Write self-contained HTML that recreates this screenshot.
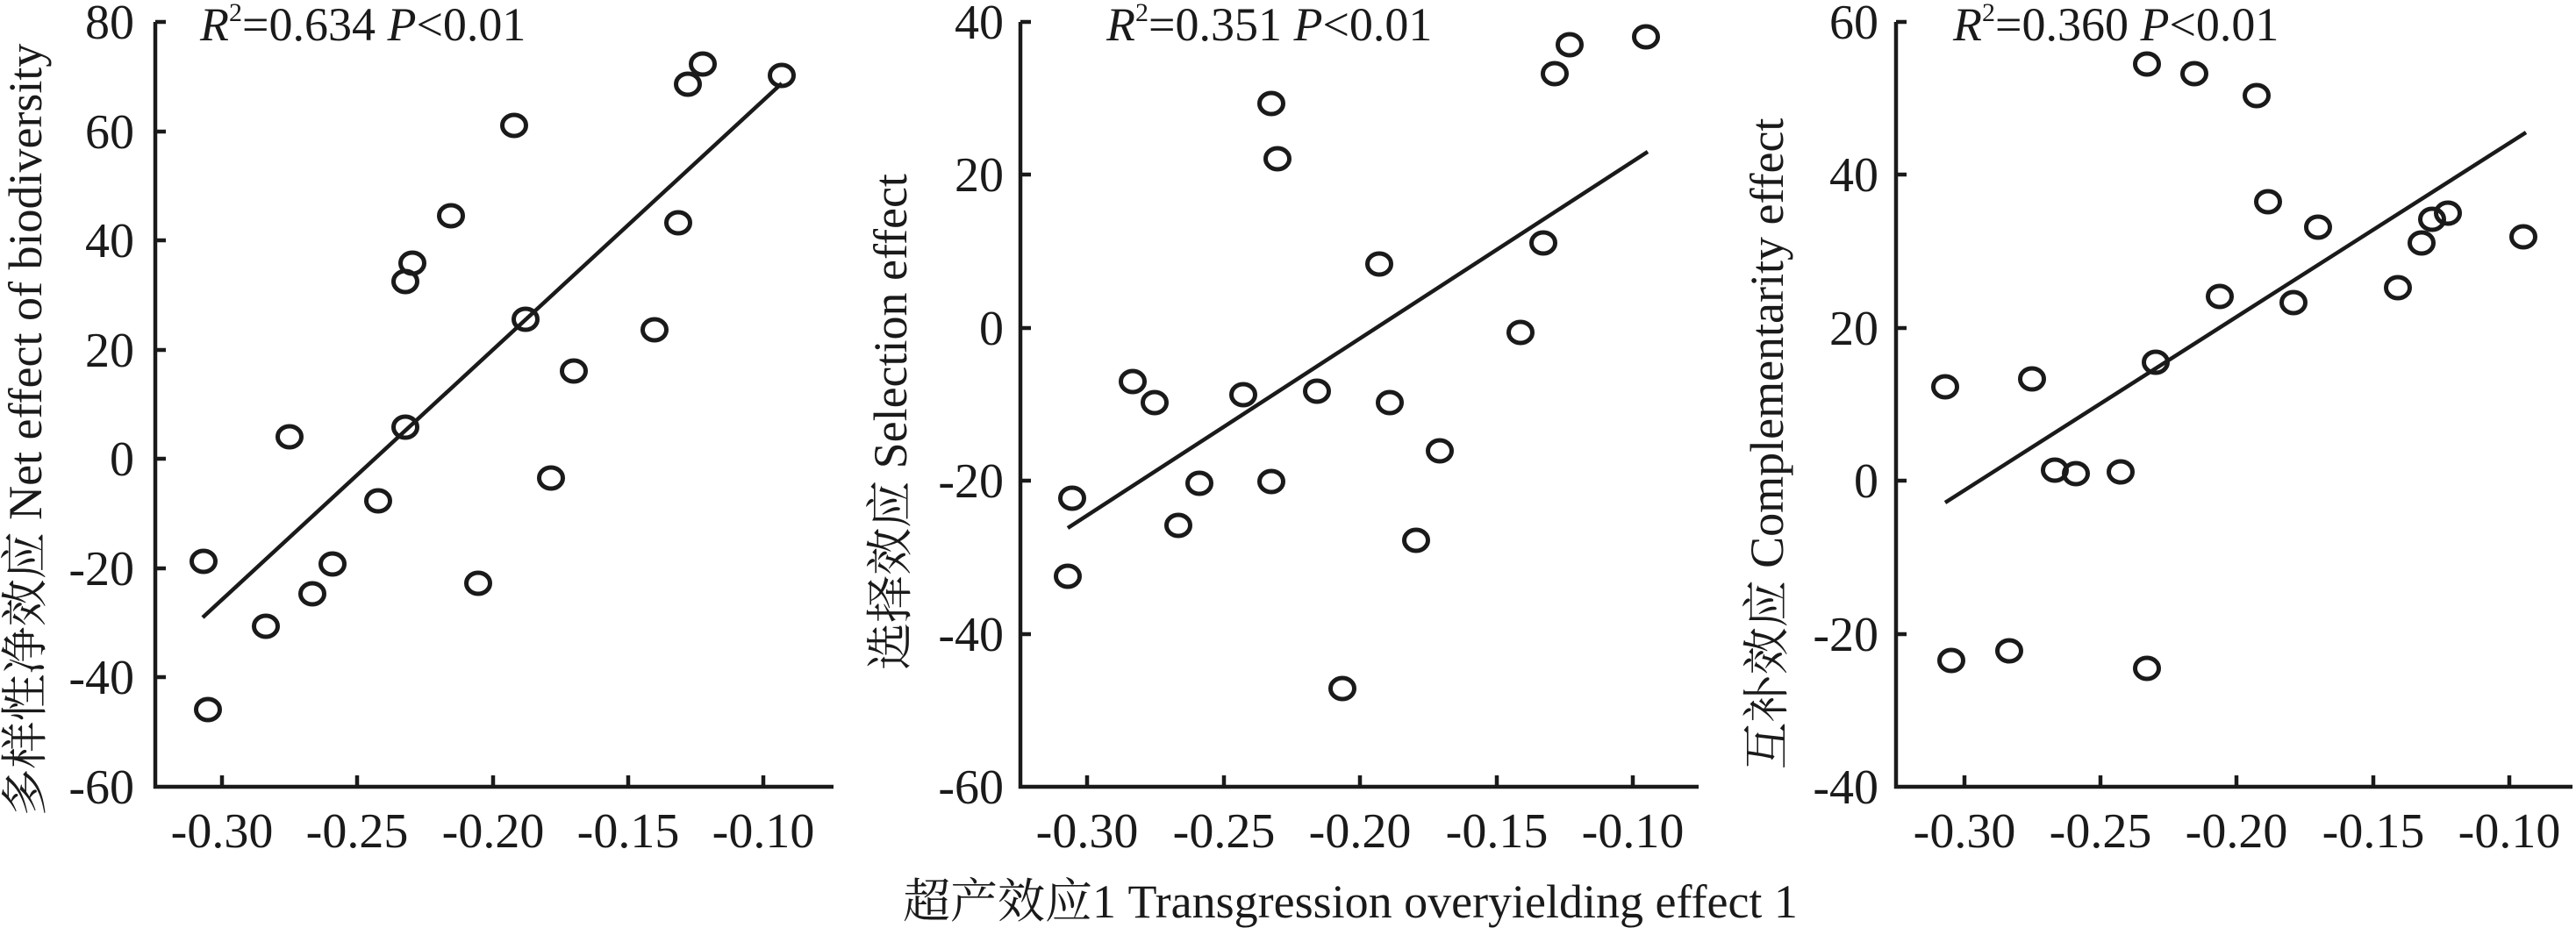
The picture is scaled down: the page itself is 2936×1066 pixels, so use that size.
<!DOCTYPE html>
<html><head><meta charset="utf-8"><style>
html,body{margin:0;padding:0;background:#fff;}
svg{display:block;}
text{font-family:"Liberation Serif","Noto Serif CJK SC","Noto Sans CJK SC",serif;fill:#1a1a1a;}
</style></head><body>
<svg width="2936" height="1066" viewBox="0 0 2936 1066" xmlns="http://www.w3.org/2000/svg">
<g stroke="#1a1a1a" stroke-width="4.5" fill="none">
<polyline points="177,25 177,897 950,897"/>
<path d="M177,25h12M177,150h12M177,274h12M177,399h12M177,523h12M177,648h12M177,772h12"/>
<path d="M253,897v-13M407,897v-13M562,897v-13M716,897v-13M870,897v-13"/>
<line x1="231" y1="704" x2="891" y2="95"/>
<polyline points="1163,25 1163,897 1936,897"/>
<path d="M1163,25h12M1163,199h12M1163,374h12M1163,548h12M1163,723h12"/>
<path d="M1239,897v-13M1395,897v-13M1550,897v-13M1706,897v-13M1861,897v-13"/>
<line x1="1217" y1="602" x2="1878" y2="173"/>
<polyline points="2161,25 2161,897 2932,897"/>
<path d="M2161,25h12M2161,199h12M2161,374h12M2161,548h12M2161,723h12"/>
<path d="M2239,897v-13M2394,897v-13M2549,897v-13M2705,897v-13M2860,897v-13"/>
<line x1="2217" y1="573" x2="2879" y2="151"/>
</g>
<g stroke="#1a1a1a" stroke-width="5" fill="none">
<ellipse cx="232" cy="640" rx="13.5" ry="12"/><ellipse cx="237" cy="809" rx="13.5" ry="12"/><ellipse cx="303" cy="714" rx="13.5" ry="12"/>
<ellipse cx="330" cy="498" rx="13.5" ry="12"/><ellipse cx="356" cy="677" rx="13.5" ry="12"/><ellipse cx="379" cy="643" rx="13.5" ry="12"/>
<ellipse cx="431" cy="571" rx="13.5" ry="12"/><ellipse cx="462" cy="321" rx="13.5" ry="12"/><ellipse cx="470" cy="300" rx="13.5" ry="12"/>
<ellipse cx="462" cy="487" rx="13.5" ry="12"/><ellipse cx="514" cy="246" rx="13.5" ry="12"/><ellipse cx="545" cy="665" rx="13.5" ry="12"/>
<ellipse cx="586" cy="143" rx="13.5" ry="12"/><ellipse cx="599" cy="364" rx="13.5" ry="12"/><ellipse cx="628" cy="545" rx="13.5" ry="12"/>
<ellipse cx="654" cy="423" rx="13.5" ry="12"/><ellipse cx="746" cy="376" rx="13.5" ry="12"/><ellipse cx="773" cy="254" rx="13.5" ry="12"/>
<ellipse cx="784" cy="96" rx="13.5" ry="12"/><ellipse cx="801" cy="73" rx="13.5" ry="12"/><ellipse cx="891" cy="86" rx="13.5" ry="12"/>
<ellipse cx="1222" cy="568" rx="13.5" ry="12"/><ellipse cx="1217" cy="657" rx="13.5" ry="12"/><ellipse cx="1291" cy="435" rx="13.5" ry="12"/>
<ellipse cx="1316" cy="459" rx="13.5" ry="12"/><ellipse cx="1343" cy="599" rx="13.5" ry="12"/><ellipse cx="1367" cy="551" rx="13.5" ry="12"/>
<ellipse cx="1417" cy="450" rx="13.5" ry="12"/><ellipse cx="1449" cy="118" rx="13.5" ry="12"/><ellipse cx="1456" cy="181" rx="13.5" ry="12"/>
<ellipse cx="1449" cy="549" rx="13.5" ry="12"/><ellipse cx="1501" cy="446" rx="13.5" ry="12"/><ellipse cx="1530" cy="785" rx="13.5" ry="12"/>
<ellipse cx="1572" cy="301" rx="13.5" ry="12"/><ellipse cx="1584" cy="459" rx="13.5" ry="12"/><ellipse cx="1614" cy="616" rx="13.5" ry="12"/>
<ellipse cx="1641" cy="514" rx="13.5" ry="12"/><ellipse cx="1733" cy="379" rx="13.5" ry="12"/><ellipse cx="1759" cy="277" rx="13.5" ry="12"/>
<ellipse cx="1772" cy="84" rx="13.5" ry="12"/><ellipse cx="1789" cy="51" rx="13.5" ry="12"/><ellipse cx="1876" cy="42" rx="13.5" ry="12"/>
<ellipse cx="2217" cy="441" rx="13.5" ry="12"/><ellipse cx="2224" cy="753" rx="13.5" ry="12"/><ellipse cx="2290" cy="742" rx="13.5" ry="12"/>
<ellipse cx="2316" cy="432" rx="13.5" ry="12"/><ellipse cx="2342" cy="536" rx="13.5" ry="12"/><ellipse cx="2366" cy="540" rx="13.5" ry="12"/>
<ellipse cx="2417" cy="538" rx="13.5" ry="12"/><ellipse cx="2447" cy="73" rx="13.5" ry="12"/><ellipse cx="2447" cy="762" rx="13.5" ry="12"/>
<ellipse cx="2457" cy="413" rx="13.5" ry="12"/><ellipse cx="2501" cy="84" rx="13.5" ry="12"/><ellipse cx="2530" cy="338" rx="13.5" ry="12"/>
<ellipse cx="2572" cy="109" rx="13.5" ry="12"/><ellipse cx="2585" cy="230" rx="13.5" ry="12"/><ellipse cx="2614" cy="345" rx="13.5" ry="12"/>
<ellipse cx="2642" cy="259" rx="13.5" ry="12"/><ellipse cx="2733" cy="328" rx="13.5" ry="12"/><ellipse cx="2760" cy="277" rx="13.5" ry="12"/>
<ellipse cx="2772" cy="250" rx="13.5" ry="12"/><ellipse cx="2790" cy="243" rx="13.5" ry="12"/><ellipse cx="2876" cy="270" rx="13.5" ry="12"/>
</g>
<g font-size="56" text-anchor="end">
<text x="153" y="44">80</text><text x="153" y="169">60</text><text x="153" y="293">40</text><text x="153" y="418">20</text>
<text x="153" y="542">0</text><text x="153" y="667">-20</text><text x="153" y="791">-40</text><text x="153" y="916">-60</text>
<text x="1144" y="44">40</text><text x="1144" y="218">20</text><text x="1144" y="393">0</text><text x="1144" y="567">-20</text>
<text x="1144" y="742">-40</text><text x="1144" y="916">-60</text>
<text x="2141" y="44">60</text><text x="2141" y="218">40</text><text x="2141" y="393">20</text><text x="2141" y="567">0</text>
<text x="2141" y="742">-20</text><text x="2141" y="916">-40</text>
</g>
<g font-size="56" text-anchor="middle">
<text x="253" y="966">-0.30</text><text x="407" y="966">-0.25</text><text x="562" y="966">-0.20</text><text x="716" y="966">-0.15</text><text x="870" y="966">-0.10</text>
<text x="1239" y="966">-0.30</text><text x="1395" y="966">-0.25</text><text x="1550" y="966">-0.20</text><text x="1706" y="966">-0.15</text><text x="1861" y="966">-0.10</text>
<text x="2239" y="966">-0.30</text><text x="2394" y="966">-0.25</text><text x="2549" y="966">-0.20</text><text x="2705" y="966">-0.15</text><text x="2860" y="966">-0.10</text>
</g>
<g font-size="54">
<text x="228" y="46"><tspan font-style="italic">R</tspan><tspan font-size="30" dy="-22">2</tspan><tspan dy="22">=0.634 </tspan><tspan font-style="italic">P</tspan>&lt;0.01</text>
<text x="1261" y="46"><tspan font-style="italic">R</tspan><tspan font-size="30" dy="-22">2</tspan><tspan dy="22">=0.351 </tspan><tspan font-style="italic">P</tspan>&lt;0.01</text>
<text x="2226" y="46"><tspan font-style="italic">R</tspan><tspan font-size="30" dy="-22">2</tspan><tspan dy="22">=0.360 </tspan><tspan font-style="italic">P</tspan>&lt;0.01</text>
</g>
<g font-size="54" text-anchor="middle">
<text transform="translate(47,490) rotate(-90)">多样性净效应 Net effect of biodiversity</text>
<text transform="translate(1033,481) rotate(-90)">选择效应 Selection effect</text>
<text transform="translate(2032,506) rotate(-90)">互补效应 Complementarity effect</text>
<text x="1539" y="1046">超产效应1 Transgression overyielding effect 1</text>
</g>
</svg>
</body></html>
